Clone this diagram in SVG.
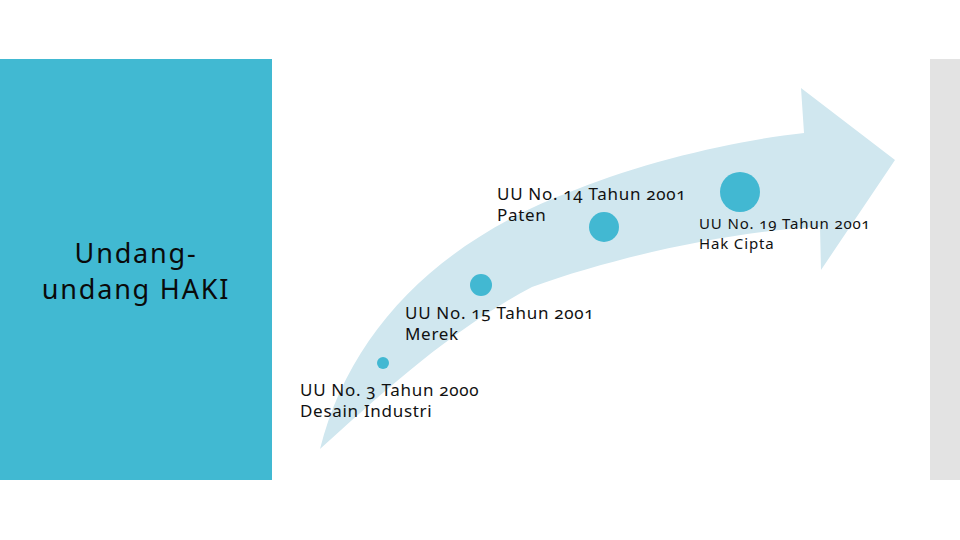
<svg xmlns="http://www.w3.org/2000/svg" width="960" height="540" viewBox="0 0 960 540">
  <style>
    .lbl { font-family: "Noto Sans", "Open Sans", "Liberation Sans", sans-serif; font-size: 17px; letter-spacing: 0.7px; fill: #111; font-variant-numeric: oldstyle-nums; }
    .lbl2 { font-family: "Noto Sans", "Open Sans", "Liberation Sans", sans-serif; font-size: 15px; letter-spacing: 0.85px; fill: #111; font-variant-numeric: oldstyle-nums; }
    .title { font-family: "Noto Sans", "Open Sans", "Liberation Sans", sans-serif; font-size: 27px; letter-spacing: 1.8px; fill: #0a0a0a; text-anchor: middle; }
    .dot { fill: #42B8D2; }
  </style>
  <rect width="960" height="540" fill="#ffffff"/>
  <g id="panel">
    <rect x="0" y="59" width="272" height="421" fill="#41B9D2"/>
    <text class="title" x="136" y="263">Undang-</text>
    <text class="title" x="136" y="299">undang HAKI</text>
  </g>
  <rect id="sidebar" x="930" y="59" width="30" height="421" fill="#E3E3E3"/>
  <g id="connectors">
    <path d="M320,449 C350,330 440,240 575,190 C650,160 740,140 804,133 L801,88 L895,160 L821,270 L820,227 C740,230 620,255 532,287 C450,330 380,395 320,449 Z" fill="#D0E7EF"/>
  </g>
  <g id="node-desain">
    <circle class="dot" cx="383" cy="363" r="6"/>
    <text class="lbl" x="300" y="396">UU No. 3 Tahun 2000</text>
    <text class="lbl" x="300" y="417">Desain Industri</text>
  </g>
  <g id="node-merek">
    <circle class="dot" cx="481" cy="285" r="11"/>
    <text class="lbl" x="405" y="319">UU No. 15 Tahun 2001</text>
    <text class="lbl" x="405" y="340">Merek</text>
  </g>
  <g id="node-paten">
    <circle class="dot" cx="604" cy="227" r="15"/>
    <text class="lbl" x="497" y="200">UU No. 14 Tahun 2001</text>
    <text class="lbl" x="497" y="221">Paten</text>
  </g>
  <g id="node-hakcipta">
    <circle class="dot" cx="740" cy="192" r="20"/>
    <text class="lbl2" x="699" y="229">UU No. 19 Tahun 2001</text>
    <text class="lbl2" x="699" y="249">Hak Cipta</text>
  </g>
</svg>
